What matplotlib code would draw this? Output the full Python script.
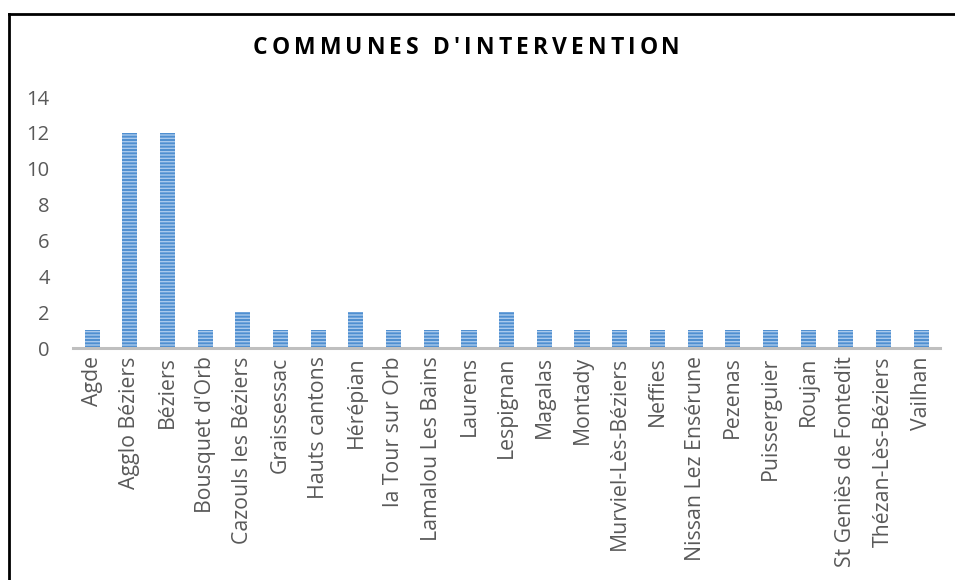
import numpy as np
import matplotlib.pyplot as plt
from matplotlib.lines import Line2D

# data
communes = ['Agde', 'Agglo Béziers', 'Béziers', "Bousquet d'Orb", 'Cazouls les Béziers',
            'Graissessac', 'Hauts cantons', 'Hérépian', 'la Tour sur Orb', 'Lamalou Les Bains',
            'Laurens', 'Lespignan', 'Magalas', 'Montady', 'Murviel-Lès-Béziers', 'Neffies',
            'Nissan Lez Ensérune', 'Pezenas', 'Puisserguier', 'Roujan', 'St Geniès de Fontedit',
            'Thézan-Lès-Béziers', 'Vailhan']
interventions = [1, 12, 12, 1, 2, 1, 1, 2, 1, 1, 1, 2, 1, 1, 1, 1, 1, 1, 1, 1, 1, 1, 1]
yticks = [0, 2, 4, 6, 8, 10, 12, 14]
title = "COMMUNES D'INTERVENTION"

plt.rcParams['font.family'] = ['Open Sans', 'DejaVu Sans']
plt.rcParams['hatch.linewidth'] = 1.0

W, H = 955, 580
fig = plt.figure(figsize=(W / 100, H / 100), dpi=100)
ax = fig.add_axes([73.3 / W, 1 - 348 / H, (940 - 73.3) / W, (348 - 97) / H])

x = np.arange(len(communes))
ax.bar(x, interventions, width=0.4, color='#4f8fd0', edgecolor='#a9c9ec',
       linewidth=0, hatch='-----')

ax.set_xlim(-0.5, len(communes) - 0.5)
ax.set_ylim(0, 14)
ax.set_yticks(yticks)
ax.set_xticks(x)
ax.set_xticklabels(communes, rotation=90)
ax.tick_params(axis='both', length=0, labelcolor='#595959')
ax.tick_params(axis='x', pad=6, labelsize=15.3)
ax.tick_params(axis='y', pad=17, labelsize=14.5)

for s in ['top', 'right', 'left']:
    ax.spines[s].set_visible(False)
ax.spines['bottom'].set_color('#bfbfbf')
ax.spines['bottom'].set_linewidth(2.2)

# title with wide letter spacing: place each character
renderer = fig.canvas.get_renderer()
chars = []
for c in title:
    t = fig.text(0, 1 - 48 / H, c, ha='left', va='center', fontsize=16.5,
                 fontweight='bold', color='black')
    chars.append(t)
widths = [t.get_window_extent(renderer).width for t in chars]
x0, x1 = 253, 680
track = (x1 - x0 - sum(widths)) / (len(title) - 1)
pos = x0
for t, w in zip(chars, widths):
    t.set_x(pos / W)
    pos += w + track

# outer frame (top and left edges visible)
fig.add_artist(Line2D([8.5 / W, 8.5 / W], [0, 1 - 13.5 / H], transform=fig.transFigure,
                      color='black', lw=2))
fig.add_artist(Line2D([8.5 / W, 1], [1 - 13.5 / H, 1 - 13.5 / H], transform=fig.transFigure,
                      color='black', lw=2))

plt.savefig('out.png', dpi=100)
